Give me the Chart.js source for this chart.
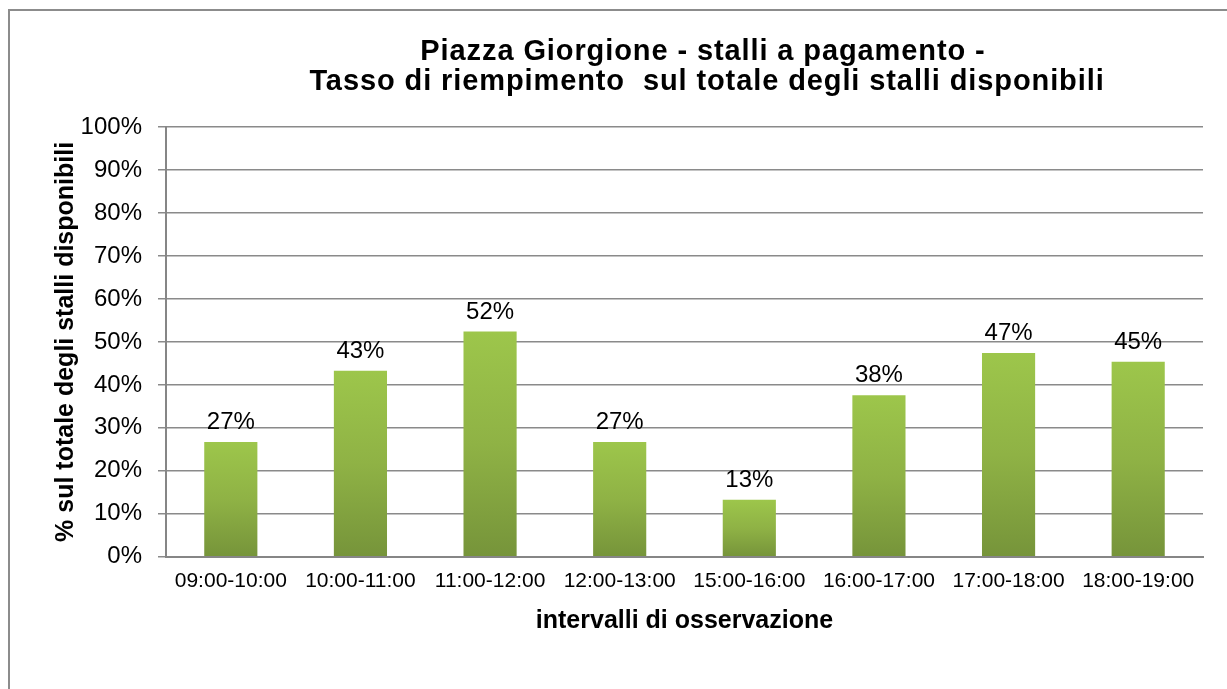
<!DOCTYPE html>
<html>
<head>
<meta charset="utf-8">
<script src="https://cdn.jsdelivr.net/npm/chart.js@4/dist/chart.umd.min.js"></script>
<style>
  body { margin: 0; background: #fff; }
  #wrap { width: 1227px; height: 689px; }
</style>
</head>
<body>
<div id="wrap"><canvas id="fillChart" width="1227" height="689"></canvas></div>
<script>
// Intervalli di osservazione e tasso di riempimento (%)
const intervals = ['09:00-10:00', '10:00-11:00', '11:00-12:00', '12:00-13:00',
                   '15:00-16:00', '16:00-17:00', '17:00-18:00', '18:00-19:00'];
const fillRate = [26.7, 43.3, 52.4, 26.7, 13.3, 37.6, 47.4, 45.4];
const titleLines = ['Piazza Giorgione - stalli a pagamento -',
                    'Tasso di riempimento  sul totale degli stalli disponibili'];

const FONT = "'Liberation Sans', Arial, sans-serif";

// Frame around the chart (only top and left edges are visible in the crop)
const framePlugin = {
    id: 'frame',
    beforeDraw(chart) {
        const ctx = chart.ctx;
        ctx.save();
        ctx.strokeStyle = '#8c8c8c';
        ctx.lineWidth = 2;
        ctx.beginPath();
        ctx.moveTo(1227, 10);
        ctx.lineTo(9, 10);
        ctx.lineTo(9, 689);
        ctx.stroke();
        ctx.restore();
    }
};

// Two-line title, centred a bit right of the canvas centre like the original
const titlePlugin = {
    id: 'bigTitle',
    afterDraw(chart) {
        const ctx = chart.ctx;
        ctx.save();
        ctx.fillStyle = '#000';
        ctx.font = 'bold 29px ' + FONT;
        ctx.letterSpacing = '0.9px';
        ctx.textAlign = 'center';
        ctx.textBaseline = 'alphabetic';
        ctx.fillText(titleLines[0], 703, 60);
        ctx.fillText(titleLines[1], 707, 90);
        ctx.restore();
    }
};

// Value labels above the bars
const valueLabels = {
    id: 'valueLabels',
    afterDatasetsDraw(chart) {
        const ctx = chart.ctx;
        const meta = chart.getDatasetMeta(0);
        ctx.save();
        ctx.fillStyle = '#000';
        ctx.font = '24px ' + FONT;
        ctx.textAlign = 'center';
        ctx.textBaseline = 'alphabetic';
        meta.data.forEach((bar, i) => {
            ctx.fillText(Math.round(fillRate[i]) + '%', bar.x, bar.y - 13);
        });
        ctx.restore();
    }
};

function barGradient(context) {
    const chart = context.chart;
    if (!chart.chartArea || context.parsed === undefined) return '#8aad42';
    const y = chart.scales.y;
    const top = y.getPixelForValue(context.parsed.y);
    const bottom = y.getPixelForValue(0);
    const g = chart.ctx.createLinearGradient(0, top, 0, bottom);
    g.addColorStop(0, '#9dc64b');
    g.addColorStop(0.5, '#8fb245');
    g.addColorStop(1, '#76943a');
    return g;
}

const ctx = document.getElementById('fillChart').getContext('2d');
new Chart(ctx, {
    type: 'bar',
    data: {
        labels: intervals,
        datasets: [{
            data: fillRate,
            backgroundColor: barGradient,
            borderWidth: 0,
            categoryPercentage: 1,
            barPercentage: 0.41
        }]
    },
    options: {
        responsive: false,
        animation: false,
        layout: { padding: { top: 127, left: 0, right: 24, bottom: 53 } },
        plugins: {
            legend: { display: false },
            title: { display: false },
            tooltip: { enabled: false }
        },
        scales: {
            x: {
                grid: { display: false, drawTicks: false },
                border: { display: true, color: '#868686', width: 2 },
                ticks: { color: '#000', font: { family: FONT, size: 21 }, padding: 12, maxRotation: 0 },
                title: {
                    display: true,
                    text: 'intervalli di osservazione',
                    color: '#000',
                    font: { family: FONT, size: 25, weight: 'bold' },
                    padding: { top: 0, bottom: 0 }
                }
            },
            y: {
                min: 0,
                max: 100,
                afterFit(scale) { scale.width = 166; },
                grid: { color: '#8a8a8a', lineWidth: 1.5, tickLength: 8, drawTicks: true },
                border: { display: true, color: '#868686', width: 2 },
                ticks: {
                    stepSize: 10,
                    padding: 16,
                    color: '#000',
                    font: { family: FONT, size: 24 },
                    callback: v => v + '%'
                },
                title: {
                    display: true,
                    text: '% sul totale degli stalli disponibili',
                    color: '#000',
                    font: { family: FONT, size: 25, weight: 'bold' },
                    padding: { top: 51, bottom: 0 }
                }
            }
        }
    },
    plugins: [framePlugin, titlePlugin, valueLabels]
});
</script>
</body>
</html>
